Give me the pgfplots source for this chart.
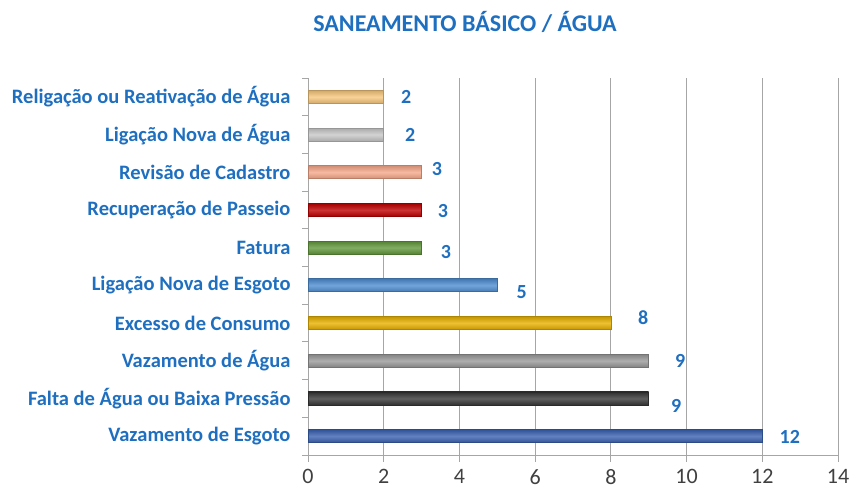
\documentclass[border=0pt]{standalone}
\usepackage{pgfplots}
\pgfplotsset{compat=1.18}
\usepackage{fontspec}
\setmainfont{Carlito}

\definecolor{lblue}{HTML}{1F6FC0}
\definecolor{tickgray}{HTML}{404040}
\definecolor{gridgray}{HTML}{A6A6A6}

\definecolor{cRelig}{HTML}{F7C77E}
\definecolor{cLigAgua}{HTML}{C8C8C8}
\definecolor{cRevisao}{HTML}{F6A88A}
\definecolor{cRecup}{HTML}{C00000}
\definecolor{cFatura}{HTML}{62993C}
\definecolor{cLigEsg}{HTML}{4F8ED2}
\definecolor{cExcesso}{HTML}{E8B100}
\definecolor{cVazAgua}{HTML}{9A9A9A}
\definecolor{cFalta}{HTML}{383838}
\definecolor{cVazEsg}{HTML}{3A62B2}

% cylinder-like look for each bar
\pgfplotsset{
  cyl/.style={
    draw=#1!75!black, line width=0.7pt,
    top color=#1!85!black, bottom color=#1!85!black, middle color=#1!80!white,
  },
}

\begin{document}
\begin{tikzpicture}
\useasboundingbox (0,0) rectangle (854pt,492pt);
\node[font=\bfseries\fontsize{24}{26}\selectfont, text=lblue] at (465pt,470pt) {SANEAMENTO BÁSICO / ÁGUA};

\begin{axis}[
    at={(308pt,37pt)}, anchor=south west,
    scale only axis,
    width=530pt, height=377pt,
    /pgf/number format/assume math mode=true,
    xbar, bar width=13pt, bar shift=0pt,
    xmin=0, xmax=14,
    ymin=-0.5, ymax=9.5,
    xtick={0,2,...,14},
    ytick={0,...,9},
    yticklabels={Vazamento de Esgoto, Falta de Água ou Baixa Pressão, Vazamento de Água, Excesso de Consumo, Ligação Nova de Esgoto, Fatura, Recuperação de Passeio, Revisão de Cadastro, Ligação Nova de Água, Religação ou Reativação de Água},
    minor ytick={-0.5,0.5,...,9.5},
    axis lines*=left,
    axis line style={gridgray, line width=0.8pt},
    xmajorgrids,
    major grid style={gridgray, line width=0.8pt},
    tick align=outside,
    major tick length=7pt, minor tick length=6pt,
    major y tick style={draw=none},
    minor y tick style={gridgray, line width=0.8pt},
    major x tick style={gridgray, line width=0.8pt},
    xticklabel style={font=\fontsize{22}{23}\selectfont, text=tickgray, yshift=-6pt, inner sep=1pt},
    yticklabel style={font=\bfseries\fontsize{20.5}{22}\selectfont, text=lblue, xshift=-7pt},
    nodes near coords,
    every node near coord/.append style={font=\bfseries\fontsize{20}{22}\selectfont, text=lblue, inner sep=0pt},
    clip=false,
]
\addplot[cyl=cVazEsg, every node near coord/.append style={xshift=17pt, yshift=-1pt}] coordinates {(12,0)};
\addplot[cyl=cFalta, every node near coord/.append style={xshift=22pt, yshift=-7pt}] coordinates {(9,1)};
\addplot[cyl=cVazAgua, every node near coord/.append style={xshift=26pt, yshift=0pt}] coordinates {(9,2)};
\addplot[cyl=cExcesso, every node near coord/.append style={xshift=27pt, yshift=5pt}] coordinates {(8,3)};
\addplot[cyl=cLigEsg, every node near coord/.append style={xshift=19pt, yshift=-7pt}] coordinates {(5,4)};
\addplot[cyl=cFatura, every node near coord/.append style={xshift=19pt, yshift=-4pt}] coordinates {(3,5)};
\addplot[cyl=cRecup, every node near coord/.append style={xshift=16pt, yshift=-1pt}] coordinates {(3,6)};
\addplot[cyl=cRevisao, every node near coord/.append style={xshift=10pt, yshift=3pt}] coordinates {(3,7)};
\addplot[cyl=cLigAgua, every node near coord/.append style={xshift=21pt, yshift=0pt}] coordinates {(2,8)};
\addplot[cyl=cRelig, every node near coord/.append style={xshift=17pt, yshift=0pt}] coordinates {(2,9)};
\end{axis}
\end{tikzpicture}
\end{document}
